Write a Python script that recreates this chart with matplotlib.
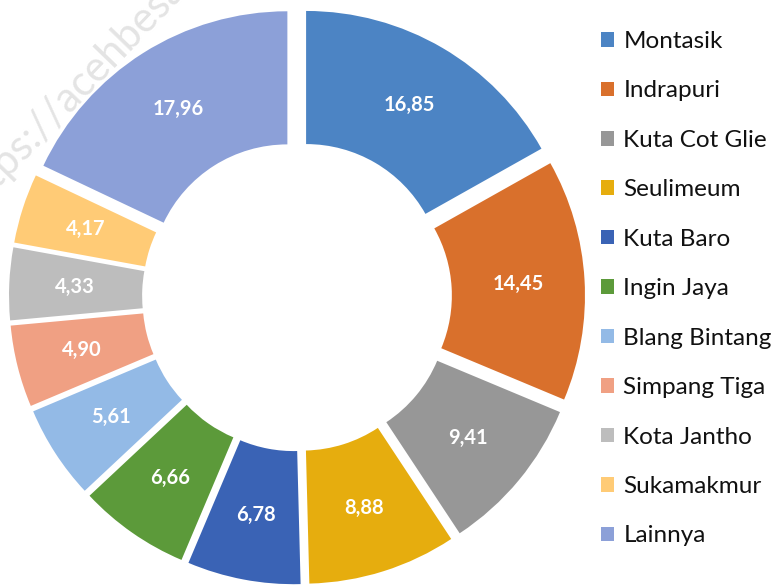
import matplotlib
matplotlib.use("Agg")
import matplotlib.pyplot as plt
import numpy as np

categories = ["Montasik", "Indrapuri", "Kuta Cot Glie", "Seulimeum", "Kuta Baro",
              "Ingin Jaya", "Blang Bintang", "Simpang Tiga", "Kota Jantho",
              "Sukamakmur", "Lainnya"]
values = [16.85, 14.45, 9.41, 8.88, 6.78, 6.66, 5.61, 4.90, 4.33, 4.17, 17.96]
value_labels = ["16,85", "14,45", "9,41", "8,88", "6,78", "6,66", "5,61",
                "4,90", "4,33", "4,17", "17,96"]
colors = ["#4C84C4", "#D9702C", "#979797", "#E6AD0E", "#3A63B5", "#5C9A3A",
          "#93BAE6", "#F0A083", "#BDBDBD", "#FFCB76", "#8CA0D8"]

W, H = 777, 585
fig = plt.figure(figsize=(W / 100, H / 100), dpi=100)
fig.patch.set_facecolor("white")

# watermark
fig.text(-0.038, 0.632, "https://acehbesarkab.bps.go.id", rotation=46,
         rotation_mode="anchor", ha="left", va="baseline", fontsize=30,
         color="#E4E4E4", family="Lato", zorder=0)

ax = fig.add_axes([0, 0, 1, 1])
ax.patch.set_alpha(0)
R = 270.0
cx, cy = 297.0, 296.5

wedges, _ = ax.pie(values, colors=colors, startangle=90, counterclock=False,
                   radius=1.0, explode=[18 / R] * len(values),
                   wedgeprops=dict(width=0.493, linewidth=0))
ax.set_xlim(-cx / R, (W - cx) / R)
ax.set_ylim((cy - H) / R, cy / R)
ax.set_aspect("equal")
ax.axis("off")

for w, lab in zip(wedges, value_labels):
    tm = np.deg2rad((w.theta1 + w.theta2) / 2)
    c = w.center
    ax.text(c[0] + 0.755 * np.cos(tm), c[1] + 0.755 * np.sin(tm), lab,
            ha="center", va="center", color="white", fontsize=14.5,
            fontweight="bold", family="Lato")

leg = fig.legend(wedges, categories, loc="upper left",
                 bbox_to_anchor=(601 / W, 1 - 31 / H), frameon=False,
                 prop=dict(family="Lato", size=17.5), handlelength=0.54,
                 handleheight=0.54, handletextpad=0.38, labelspacing=1.17,
                 borderpad=0, borderaxespad=0)
for t in leg.get_texts():
    t.set_color("#111111")

fig.savefig("out.png", dpi=100)
